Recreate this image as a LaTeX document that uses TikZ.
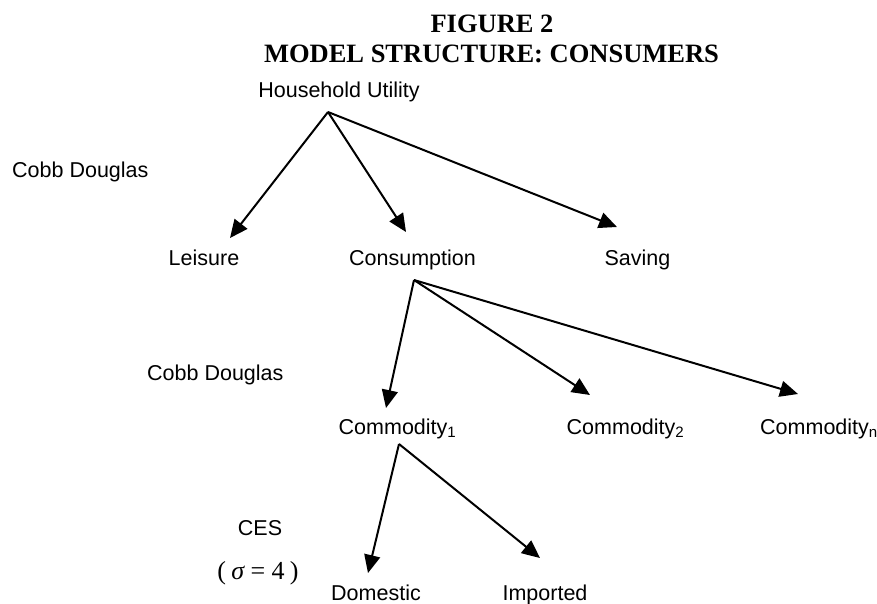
\documentclass[tikz,border=0pt]{standalone}
\usepackage[no-math]{fontspec}
\setmainfont{Liberation Sans}
\newfontfamily\titlefont{Liberation Serif}
\usepackage{tikz}
\usetikzlibrary{arrows.meta}
\tikzstyle{txt} = [inner sep=0pt, anchor=base, font=\fontsize{21.5}{26}\selectfont]
\tikzstyle{ttl} = [inner sep=0pt, anchor=base, font=\titlefont\bfseries\fontsize{26.5}{30}\selectfont]
\tikzstyle{arrow} = [line width=2pt, -{Triangle[length=18pt,width=16pt]}]

\begin{document}
\begin{tikzpicture}[x=1pt, y=-1pt]
  \useasboundingbox (0,0) rectangle (877,603);

  \node (fig) [ttl] at (492,32) {FIGURE 2};
  \node (title) [ttl] at (491.5,62) {MODEL STRUCTURE: CONSUMERS};

  \node (hu) [txt] at (339,97) {Household Utility};
  \node (cd1) [txt, anchor=base west] at (12,177) {Cobb Douglas};
  \node (leisure) [txt] at (204,265) {Leisure};
  \node (cons) [txt] at (412.5,265) {Consumption};
  \node (saving) [txt] at (637.5,265) {Saving};
  \node (cd2) [txt, anchor=base west] at (147,380) {Cobb Douglas};
  \node (com1) [txt] at (397.5,434) {Commodity\textsubscript{1}};
  \node (com2) [txt] at (625.5,434) {Commodity\textsubscript{2}};
  \node (comn) [txt] at (819,434) {Commodity\textsubscript{n}};
  \node (ces) [txt] at (260,535) {CES};
  \node (sigma) [txt, font=\titlefont\fontsize{26}{30}\selectfont] at (258,579)
    {(\hspace{0.2em}{\itshape σ} = 4\hspace{0.2em})};
  \node (dom) [txt] at (376,600) {Domestic};
  \node (imp) [txt] at (545,600) {Imported};

  % fork points under the parents
  \coordinate (hu-fork) at ([xshift=-11pt,yshift=-15pt]hu.base);
  \coordinate (cons-fork) at ([xshift=1.5pt,yshift=-15pt]cons.base);
  \coordinate (com1-fork) at ([xshift=1.5pt,yshift=-10pt]com1.base);

  \draw [arrow] (hu-fork) -- ([xshift=26pt,yshift=27pt]leisure.base);
  \draw [arrow] (hu-fork) -- ([xshift=-6.5pt,yshift=33pt]cons.base);
  \draw [arrow] (hu-fork) -- ([xshift=-20.5pt,yshift=38pt]saving.base);

  \draw [arrow] (cons-fork) -- ([xshift=-11.5pt,yshift=26pt]com1.base);
  \draw [arrow] (cons-fork) -- ([xshift=-35.5pt,yshift=39pt]com2.base);
  \draw [arrow] (cons-fork) -- ([xshift=-21pt,yshift=40pt]comn.base);

  \draw [arrow] (com1-fork) -- ([xshift=-8pt,yshift=27pt]dom.base);
  \draw [arrow] (com1-fork) -- ([xshift=-5pt,yshift=42pt]imp.base);
\end{tikzpicture}
\end{document}
